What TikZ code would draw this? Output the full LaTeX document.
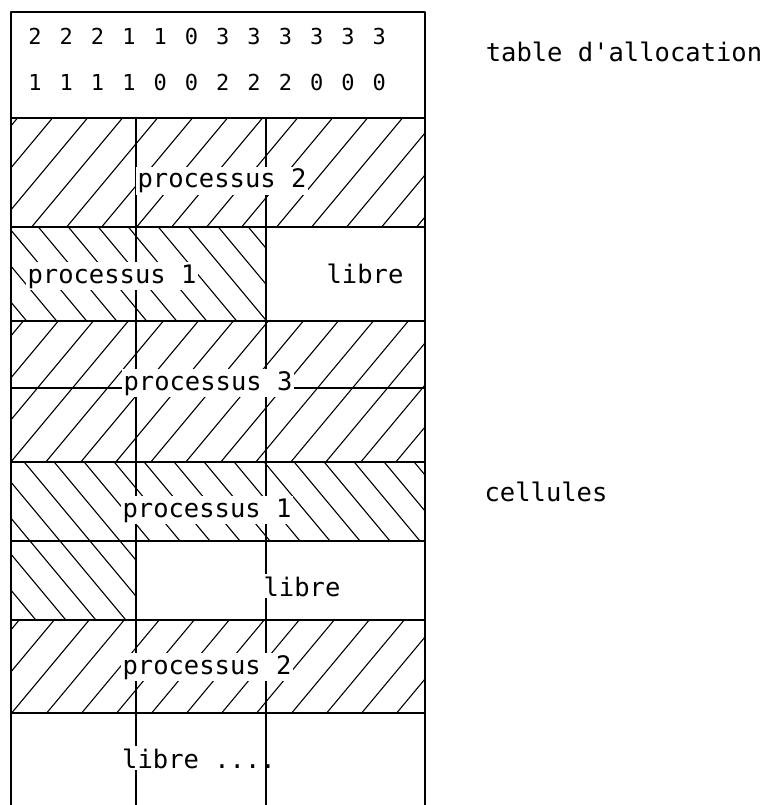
\documentclass[tikz,border=0pt]{standalone}
\usepackage{fontspec}
\setmonofont{DejaVu Sans Mono}
\begin{document}
\begin{tikzpicture}[x=1pt,y=-1pt,line cap=round,line join=round,
  every node/.style={font=\ttfamily\fontsize{25.5}{28}\selectfont},
  rule/.style={line width=2pt},
  thinrule/.style={line width=1.3pt},
  hatch/.style={line width=1.1pt},
  digit/.style={font=\ttfamily\fontsize{22}{24}\selectfont},
  lbl/.style={fill=white,inner sep=2pt,anchor=base}]
  \useasboundingbox (0,0) rectangle (771,805);
  % hatching "/" : processus 2 and 3
  \begin{scope}
    \clip (11,118) rectangle (425,227) (11,321) rectangle (425,462)
      (11,620) rectangle (425,713);
    \foreach \i in {-800,-765,...,450}
      \draw[hatch] (\i,805) -- (\i+700,-35);
  \end{scope}
  % hatching "\" : processus 1
  \begin{scope}
    \clip (11,227) rectangle (266,321) (11,462) rectangle (425,541)
      (11,541) rectangle (136,620);
    \foreach \i in {-900,-870,...,450}
      \draw[hatch] (\i,-35) -- (\i+700,805);
  \end{scope}
  % frame and cell rows
  \draw[rule] (11,805) -- (11,12) -- (425,12) -- (425,805);
  \foreach \y in {118,227,321,388,462,541,620,713}
    \draw[rule] (11,\y) -- (425,\y);
  \draw[thinrule] (136,118) -- (136,805);
  \draw[thinrule] (266,118) -- (266,805);
  % allocation table
  \foreach \d [count=\k from 0] in {2,2,2,1,1,0,3,3,3,3,3,3}
    \node[digit] (hi\k) at (35+31.3*\k,36) {\d};
  \foreach \d [count=\k from 0] in {1,1,1,1,0,0,2,2,2,0,0,0}
    \node[digit] (lo\k) at (35+31.3*\k,82) {\d};
  % cell labels
  \node[lbl] (procA) at (222,188) {processus 2};
  \node[lbl] (procB) at (112,283) {processus 1};
  \node[lbl] (freeB) at (365,283) {libre};
  \node[lbl] (procC) at (208,390) {processus 3};
  \node[lbl] (procD) at (207,517) {processus 1};
  \node[lbl] (freeE) at (302,596) {libre};
  \node[lbl] (procF) at (207,674) {processus 2};
  \node[lbl] (freeG) at (199,768) {libre ....};
  \draw[thinrule] (266,713) -- (266,805);
  % side captions
  \node[anchor=base] (table) at (624,62) {table d'allocation};
  \node[anchor=base] (cells) at (546,501) {cellules};
\end{tikzpicture}
\end{document}
